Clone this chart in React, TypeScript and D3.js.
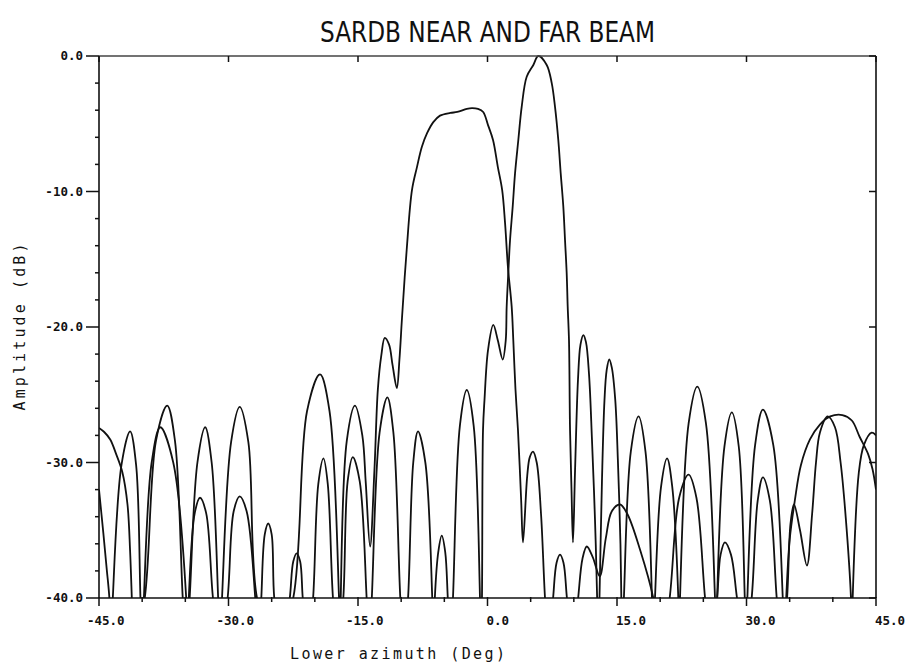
import * as d3 from 'd3';
import React, { useEffect } from 'react';

// [azimuth deg, amplitude dB]; -44 marks a null that drops below the frame
const nearBeam: [number, number][] = [
  [-45.0, -27.45], [-44.4, -27.75], [-43.7, -28.3], [-43.0, -29.4], [-42.3, -30.7], [-41.7, -33.1],
  [-41.4, -36.5], [-41.2, -40], [-41.0, -44],
  [-39.7, -40], [-38.4, -28.4], [-37.1, -25.8], [-36.2, -28.4], [-35.3, -40], [-34.9, -44],
  [-34.5, -40], [-33.6, -30.0], [-32.7, -27.4], [-31.95, -30.0], [-31.2, -40], [-31.0, -44],
  [-30.75, -40], [-29.7, -28.5], [-28.7, -25.9], [-27.7, -28.5], [-26.7, -40], [-24.6, -44],
  [-22.5, -40], [-20.9, -26.2], [-19.4, -23.5], [-18.3, -26.2], [-17.2, -40], [-17.05, -44],
  [-17.0, -40], [-16.3, -28.4], [-15.35, -25.8], [-14.5, -28.0], [-14.1, -31.5], [-13.6, -36.2],
  [-13.1, -30.6], [-12.7, -24.6], [-12.3, -22.1], [-11.9, -20.8], [-11.4, -21.3], [-11.0, -22.8],
  [-10.5, -24.5], [-10.2, -22.4], [-9.9, -19.3], [-9.36, -14.3], [-8.75, -9.9], [-8.17, -8.2],
  [-7.6, -6.7], [-7.0, -5.7], [-6.3, -4.9], [-5.5, -4.4], [-4.3, -4.2], [-3.5, -4.13],
  [-2.4, -3.9], [-1.8, -3.84], [-1.1, -3.9], [-0.5, -4.13], [0.06, -5.1], [0.64, -6.2],
  [1.2, -8.2], [1.7, -9.9], [2.03, -12.3], [2.37, -15.6], [2.8, -18.5], [2.99, -21.0],
  [3.24, -24.6], [3.53, -27.6], [3.9, -32.8], [4.11, -35.9],
  [4.6, -31.0], [4.9, -29.6], [5.27, -29.2], [5.7, -30.0], [6.2, -33.8], [6.66, -40], [7.1, -44],
  [7.6, -40], [8.0, -37.4], [8.4, -36.8], [8.8, -37.4], [9.2, -40], [9.85, -44],
  [10.5, -40], [11.0, -37.1], [11.5, -36.2], [12.2, -37.0], [13.0, -38.4], [13.7, -35.6],
  [14.4, -33.6], [15.35, -33.1], [16.2, -33.8], [17.7, -36.5], [19.2, -40], [20.1, -44],
  [21.1, -40], [22.2, -32.6], [23.3, -30.9], [24.2, -32.6], [25.2, -40], [25.9, -44],
  [26.6, -40], [27.0, -36.8], [27.5, -35.9], [28.2, -36.8], [28.9, -40], [29.8, -44],
  [30.6, -40], [31.3, -32.8], [31.9, -31.1], [32.7, -32.8], [33.5, -40], [34.1, -44],
  [34.7, -40], [35.1, -34.5], [35.5, -33.1], [36.2, -35.0], [37.0, -37.6],
  [37.6, -33.8], [38.05, -30.0], [38.5, -27.8], [39.4, -26.6], [40.25, -27.4], [40.9, -30.0],
  [41.5, -34.1], [42.1, -40], [42.2, -44],
  [42.3, -40], [43.0, -30.8], [43.6, -28.7], [44.5, -27.8], [45.0, -28.0],
];

const farBeam: [number, number][] = [
  [-45.0, -32.0], [-44.5, -35.2], [-44.1, -37.9], [-43.8, -40], [-43.6, -44],
  [-43.4, -40], [-42.4, -30.2], [-41.4, -27.7], [-40.7, -30.2], [-40.2, -40], [-40.0, -44],
  [-39.8, -40], [-38.9, -30.0], [-37.9, -27.4], [-36.4, -30.0], [-34.9, -40], [-34.75, -44],
  [-34.6, -40], [-33.9, -33.7], [-33.3, -32.6], [-32.6, -33.7], [-31.8, -40], [-31.0, -44],
  [-30.1, -40], [-29.4, -33.6], [-28.7, -32.5], [-27.9, -33.6], [-26.9, -40], [-26.5, -44],
  [-26.2, -40], [-25.8, -35.3], [-25.4, -34.5], [-25.0, -35.3], [-24.7, -40], [-23.8, -44],
  [-22.9, -40], [-22.5, -37.3], [-22.1, -36.7], [-21.7, -37.3], [-21.4, -40], [-20.8, -44],
  [-20.2, -40], [-19.6, -31.6], [-19.0, -29.7], [-18.5, -31.6], [-17.9, -40], [-17.3, -44],
  [-16.7, -40], [-16.2, -31.4], [-15.6, -29.6], [-14.8, -31.4], [-14.0, -40], [-13.7, -44],
  [-13.4, -40], [-12.5, -27.8], [-11.6, -25.2], [-10.9, -27.8], [-10.1, -40], [-9.7, -44],
  [-9.2, -40], [-8.6, -30.0], [-8.05, -27.7], [-7.2, -30.0], [-6.4, -40], [-6.25, -44],
  [-6.1, -40], [-5.7, -36.6], [-5.3, -35.4], [-4.9, -36.6], [-4.6, -40], [-4.3, -44],
  [-4.0, -40], [-3.2, -27.3], [-2.4, -24.65], [-1.6, -27.3], [-0.87, -40], [-0.75, -44],
  [-0.64, -40], [-0.52, -27.6], [-0.35, -25.4], [0.06, -21.7], [0.67, -19.85], [1.2, -21.0],
  [1.76, -22.4], [2.11, -21.0], [2.22, -18.5], [2.41, -16.0], [2.61, -13.6], [2.92, -11.1],
  [3.19, -8.66], [3.57, -6.2], [3.96, -3.75], [4.54, -1.53], [5.31, -0.66], [5.88, 0],
  [6.86, -0.66], [7.44, -2.0], [7.82, -3.75], [8.2, -6.2], [8.48, -8.66], [8.78, -11.1],
  [8.98, -13.6], [9.17, -16.0], [9.29, -18.5], [9.44, -21.0], [9.56, -27.6], [9.73, -32.0],
  [9.9, -35.9], [10.14, -30.6], [10.48, -23.9], [10.77, -21.3], [11.1, -20.6], [11.4, -21.1],
  [11.76, -23.5], [12.1, -28.3], [12.45, -34.2], [12.7, -40], [12.8, -44],
  [12.97, -40], [13.26, -31.3], [13.55, -25.4], [13.8, -23.2], [14.1, -22.4], [14.4, -23.0],
  [14.8, -25.4], [15.1, -29.8], [15.4, -36], [15.5, -40], [15.6, -44],
  [15.8, -40], [16.6, -29.2], [17.5, -26.6], [18.3, -29.2], [19.05, -40], [19.2, -44],
  [19.4, -40], [20.1, -31.8], [20.8, -29.7], [21.4, -31.8], [22.1, -40], [22.2, -44],
  [22.3, -40], [23.3, -27.1], [24.3, -24.4], [25.3, -27.1], [26.35, -40], [26.5, -44],
  [26.6, -40], [27.45, -28.8], [28.3, -26.3], [29.1, -28.8], [29.8, -40], [29.95, -44],
  [30.1, -40], [31.0, -28.7], [31.9, -26.1], [33.1, -28.7], [34.2, -40], [34.35, -44],
  [34.6, -40], [35.0, -35.7], [35.6, -32.8], [36.3, -30.2], [37.35, -28.3], [38.5, -27.2],
  [39.7, -26.6], [41.1, -26.5], [42.2, -26.9], [43.1, -28.1], [44.1, -29.4], [44.6, -30.5],
  [45.0, -32.0],
];

const xTicks = [-45, -30, -15, 0, 15, 30, 45];
const yTicks = [0, -10, -20, -30, -40];

const title = 'SARDB NEAR AND FAR BEAM';
const xTitle = 'Lower azimuth (Deg)';
const yTitle = 'Amplitude (dB)';

export default function App() {
  const ref = React.useRef<SVGSVGElement>(null);

  useEffect(() => {
    if (!ref.current) return;
    const svg = d3.select(ref.current);
    svg.selectAll('*').remove();

    const x = d3.scaleLinear().domain([-45, 45]).range([99, 876]);
    const y = d3.scaleLinear().domain([-40, 0]).range([598, 56]);
    const [x0, x1] = x.range();
    const [y0, y1] = y.range();

    svg.append('rect').attr('width', 905).attr('height', 666).attr('fill', '#fff');

    // clip so nulls below -40 are cut at the frame
    svg
      .append('clipPath')
      .attr('id', 'plot-clip')
      .append('rect')
      .attr('x', x0)
      .attr('y', y1 - 3)
      .attr('width', x1 - x0)
      .attr('height', y0 - y1 + 3);

    const line = d3
      .line<[number, number]>()
      .x(d => x(d[0]))
      .y(d => y(d[1]))
      .curve(d3.curveCatmullRom.alpha(0.5));

    const curves = svg.append('g').attr('clip-path', 'url(#plot-clip)');
    [nearBeam, farBeam].forEach(series => {
      curves
        .append('path')
        .datum(series)
        .attr('fill', 'none')
        .attr('stroke', '#111')
        .attr('stroke-width', 1.8)
        .attr('stroke-linejoin', 'round')
        .attr('d', line);
    });

    // frame
    const frame = svg.append('g').attr('stroke', '#111').attr('fill', 'none');
    frame.append('line').attr('x1', x0).attr('x2', x0).attr('y1', y1).attr('y2', y0).attr('stroke-width', 1.6);
    frame.append('line').attr('x1', x0).attr('x2', x1).attr('y1', y0).attr('y2', y0).attr('stroke-width', 1.6);
    frame.append('line').attr('x1', x0).attr('x2', x1).attr('y1', y1).attr('y2', y1).attr('stroke-width', 1.4).attr('stroke', '#444');
    frame.append('line').attr('x1', x1).attr('x2', x1).attr('y1', y1).attr('y2', y0).attr('stroke-width', 1.6);

    // x ticks: bottom minor + major, top major
    x.ticks(18).forEach(t => {
      const major = xTicks.includes(t);
      frame
        .append('line')
        .attr('x1', x(t))
        .attr('x2', x(t))
        .attr('y1', y0 - 1)
        .attr('y2', y0 + (major ? 8 : 4))
        .attr('stroke-width', 1.5);
    });
    xTicks.forEach(t => {
      frame
        .append('line')
        .attr('x1', x(t))
        .attr('x2', x(t))
        .attr('y1', y1)
        .attr('y2', y1 + 6)
        .attr('stroke-width', 1.5);
    });

    // y ticks: left minor + major, right major
    y.ticks(20).forEach(t => {
      const major = yTicks.includes(t);
      frame
        .append('line')
        .attr('x1', x0 - (major ? 13 : 4))
        .attr('x2', x0)
        .attr('y1', y(t))
        .attr('y2', y(t))
        .attr('stroke-width', 1.5);
    });
    yTicks.forEach(t => {
      frame
        .append('line')
        .attr('x1', x1 - 7)
        .attr('x2', x1)
        .attr('y1', y(t))
        .attr('y2', y(t))
        .attr('stroke-width', 1.5);
    });

    const tickFont = "'DejaVu Sans Mono', monospace";
    svg
      .append('g')
      .selectAll('text')
      .data(xTicks)
      .enter()
      .append('text')
      .attr('x', d => x(d) - (d < 0 ? 12 : 1))
      .attr('y', 625)
      .attr('font-family', tickFont)
      .attr('font-weight', 'bold')
      .attr('font-size', 12.5)
      .attr('fill', '#111')
      .text(d => d.toFixed(1));

    svg
      .append('g')
      .selectAll('text')
      .data(yTicks)
      .enter()
      .append('text')
      .attr('x', 83)
      .attr('y', d => y(d))
      .attr('dy', '0.35em')
      .attr('text-anchor', 'end')
      .attr('font-family', tickFont)
      .attr('font-weight', 'bold')
      .attr('font-size', 12.5)
      .attr('fill', '#111')
      .text(d => d.toFixed(1));

    svg
      .append('text')
      .attr('x', (x0 + x1) / 2)
      .attr('y', 42)
      .attr('text-anchor', 'middle')
      .attr('font-family', "'DejaVu Sans Condensed', 'Liberation Sans Narrow', sans-serif")
      .attr('font-weight', 300)
      .attr('font-size', 29)
      .attr('textLength', 335)
      .attr('lengthAdjust', 'spacingAndGlyphs')
      .attr('fill', '#111')
      .text(title);

    svg
      .append('text')
      .attr('x', 290)
      .attr('y', 659)
      .attr('font-family', tickFont)
      .attr('font-size', 15)
      .attr('textLength', 215)
      .attr('lengthAdjust', 'spacing')
      .attr('fill', '#111')
      .text(xTitle);

    svg
      .append('text')
      .attr('transform', 'translate(25,327) rotate(-90)')
      .attr('text-anchor', 'middle')
      .attr('font-family', tickFont)
      .attr('font-size', 15)
      .attr('textLength', 167)
      .attr('lengthAdjust', 'spacing')
      .attr('fill', '#111')
      .text(yTitle);
  }, []);

  return (
    <svg
      ref={ref}
      width={905}
      height={666}
      style={{ position: 'absolute', left: 0, top: 0 }}
    />
  );
}
